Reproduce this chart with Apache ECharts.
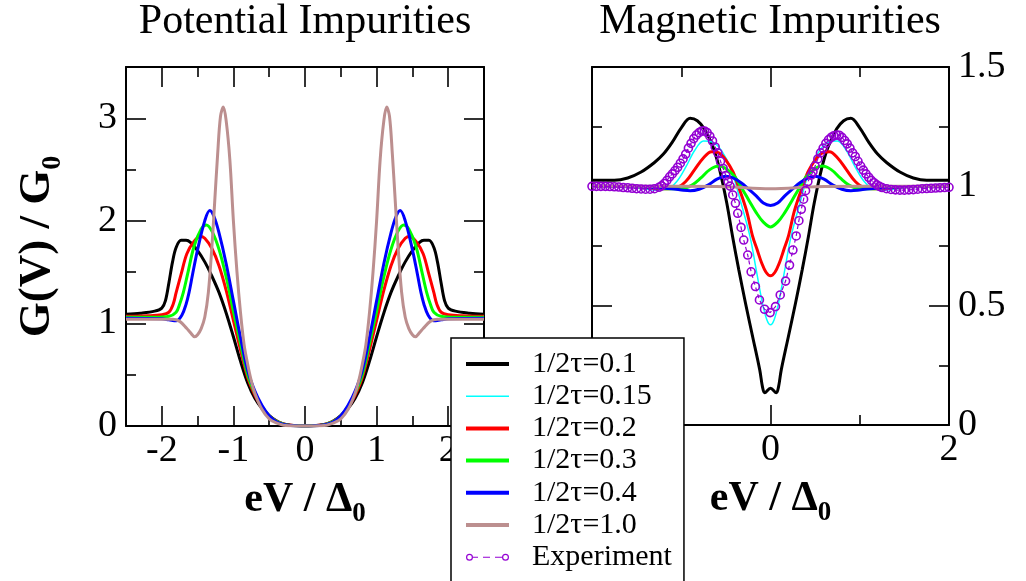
<!DOCTYPE html>
<html>
<head>
<meta charset="utf-8">
<script src="https://cdn.jsdelivr.net/npm/echarts@6/dist/echarts.min.js"></script>
<style>
html,body{margin:0;padding:0;background:#fff;}
#chart{width:1026px;height:581px;}
</style>
</head>
<body>
<div id="chart"></div>
<script>
// ---------- DATA ----------
const seriesNames = ['1/2τ=0.1', '1/2τ=0.15', '1/2τ=0.2', '1/2τ=0.3', '1/2τ=0.4', '1/2τ=1.0', 'Experiment'];
const panelTitles = ['Potential Impurities', 'Magnetic Impurities'];

const leftXTickLabels = [-2, -1, 0, 1, 2];
const leftYTickLabels = [0, 1, 2, 3];
const rightXTickLabels = [-2, 0, 2];
const rightYTickLabels = [0, 0.5, 1, 1.5];

// Potential impurities (left panel)
const leftBlack = [[-2.5,1.09],[-2.3,1.1],[-2.1,1.12],[-2.0,1.15],[-1.95,1.22],[-1.9,1.4],[-1.85,1.6],[-1.8,1.74],[-1.73,1.81],[-1.66,1.81],[-1.6,1.79],[-1.5,1.71],[-1.4,1.6],[-1.3,1.46],[-1.2,1.3],[-1.1,1.1],[-1.0,0.87],[-0.9,0.63],[-0.8,0.42],[-0.7,0.27],[-0.6,0.17],[-0.5,0.1],[-0.4,0.05],[-0.3,0.02],[-0.2,0.008],[-0.1,0.002],[0,0],
  [0.1,0.002],[0.2,0.008],[0.3,0.02],[0.4,0.05],[0.5,0.1],[0.6,0.17],[0.7,0.27],[0.8,0.42],[0.9,0.63],[1.0,0.87],[1.1,1.1],[1.2,1.3],[1.3,1.46],[1.4,1.6],[1.5,1.71],[1.6,1.79],[1.66,1.81],[1.73,1.81],[1.8,1.74],[1.85,1.6],[1.9,1.4],[1.95,1.22],[2.0,1.15],[2.1,1.12],[2.3,1.1],[2.5,1.09]];
const leftRed = [[-2.5,1.07],[-2.2,1.075],[-2.0,1.085],[-1.9,1.11],[-1.84,1.19],[-1.8,1.3],[-1.73,1.48],[-1.65,1.68],[-1.55,1.8],[-1.46,1.85],[-1.4,1.83],[-1.3,1.73],[-1.2,1.56],[-1.1,1.32],[-1.0,1.03],[-0.9,0.74],[-0.8,0.47],[-0.7,0.3],[-0.6,0.18],[-0.5,0.1],[-0.4,0.048],[-0.3,0.02],[-0.2,0.007],[-0.1,0.002],[0,0],
  [0.1,0.002],[0.2,0.007],[0.3,0.02],[0.4,0.048],[0.5,0.1],[0.6,0.18],[0.7,0.3],[0.8,0.47],[0.9,0.74],[1.0,1.03],[1.1,1.32],[1.2,1.56],[1.3,1.73],[1.4,1.83],[1.46,1.85],[1.55,1.8],[1.65,1.68],[1.73,1.48],[1.8,1.3],[1.84,1.19],[1.9,1.11],[2.0,1.085],[2.2,1.075],[2.5,1.07]];
const leftGreen = [[-2.5,1.06],[-2.1,1.06],[-1.9,1.07],[-1.8,1.11],[-1.75,1.19],[-1.7,1.3],[-1.64,1.48],[-1.55,1.75],[-1.45,1.92],[-1.38,1.96],[-1.3,1.9],[-1.2,1.72],[-1.1,1.45],[-1.0,1.12],[-0.9,0.8],[-0.8,0.5],[-0.7,0.32],[-0.6,0.19],[-0.5,0.1],[-0.4,0.045],[-0.3,0.018],[-0.2,0.006],[-0.1,0.002],[0,0],
  [0.1,0.002],[0.2,0.006],[0.3,0.018],[0.4,0.045],[0.5,0.1],[0.6,0.19],[0.7,0.32],[0.8,0.5],[0.9,0.8],[1.0,1.12],[1.1,1.45],[1.2,1.72],[1.3,1.9],[1.38,1.96],[1.45,1.92],[1.55,1.75],[1.64,1.48],[1.7,1.3],[1.75,1.19],[1.8,1.11],[1.9,1.07],[2.1,1.06],[2.5,1.06]];
const leftBlue = [[-2.5,1.05],[-2.0,1.045],[-1.9,1.035],[-1.8,1.025],[-1.72,1.08],[-1.66,1.19],[-1.62,1.3],[-1.57,1.48],[-1.5,1.72],[-1.4,2.0],[-1.33,2.1],[-1.27,2.04],[-1.2,1.88],[-1.1,1.58],[-1.0,1.22],[-0.9,0.86],[-0.8,0.54],[-0.7,0.34],[-0.6,0.2],[-0.5,0.1],[-0.4,0.042],[-0.3,0.016],[-0.2,0.005],[-0.1,0.001],[0,0],
  [0.1,0.001],[0.2,0.005],[0.3,0.016],[0.4,0.042],[0.5,0.1],[0.6,0.2],[0.7,0.34],[0.8,0.54],[0.9,0.86],[1.0,1.22],[1.1,1.58],[1.2,1.88],[1.27,2.04],[1.33,2.1],[1.4,2.0],[1.5,1.72],[1.57,1.48],[1.62,1.3],[1.66,1.19],[1.72,1.08],[1.8,1.025],[1.9,1.035],[2.0,1.045],[2.5,1.05]];
const leftBrown = [[-2.5,1.04],[-2.0,1.04],[-1.85,1.04],[-1.75,1.02],[-1.65,0.95],[-1.6,0.91],[-1.54,0.87],[-1.5,0.89],[-1.45,0.95],[-1.4,1.06],[-1.35,1.3],[-1.3,1.75],[-1.26,2.2],[-1.22,2.65],[-1.18,3.02],[-1.14,3.11],[-1.1,2.97],[-1.05,2.6],[-1.0,2.0],[-0.95,1.5],[-0.9,1.1],[-0.85,0.79],[-0.8,0.6],[-0.75,0.44],[-0.7,0.32],[-0.6,0.16],[-0.5,0.07],[-0.4,0.03],[-0.3,0.008],[-0.2,0.002],[-0.1,0],[0,0],
  [0.1,0],[0.2,0.002],[0.3,0.008],[0.4,0.03],[0.5,0.07],[0.6,0.16],[0.7,0.32],[0.75,0.44],[0.8,0.6],[0.85,0.79],[0.9,1.1],[0.95,1.5],[1.0,2.0],[1.05,2.6],[1.1,2.97],[1.14,3.11],[1.18,3.02],[1.22,2.65],[1.26,2.2],[1.3,1.75],[1.35,1.3],[1.4,1.06],[1.45,0.95],[1.5,0.89],[1.54,0.87],[1.6,0.91],[1.65,0.95],[1.75,1.02],[1.85,1.04],[2.0,1.04],[2.5,1.04]];

// Magnetic impurities (right panel)
const rightBlack = [[-2.0,1.025],[-1.75,1.025],[-1.6,1.035],[-1.45,1.06],[-1.3,1.1],[-1.2,1.135],[-1.1,1.185],[-1.0,1.245],[-0.9,1.285],[-0.82,1.275],[-0.74,1.24],[-0.64,1.16],[-0.57,1.07],[-0.49,0.93],[-0.425,0.79],[-0.355,0.65],[-0.28,0.51],[-0.2,0.37],[-0.12,0.23],[-0.09,0.16],[-0.065,0.135],[0,0.154],
  [0.065,0.135],[0.09,0.16],[0.12,0.23],[0.2,0.37],[0.28,0.51],[0.355,0.65],[0.425,0.79],[0.49,0.93],[0.57,1.07],[0.64,1.16],[0.74,1.24],[0.82,1.275],[0.9,1.285],[1.0,1.245],[1.1,1.185],[1.2,1.135],[1.3,1.1],[1.45,1.06],[1.6,1.035],[1.75,1.025],[2.0,1.025]];
const rightCyan = [[-2.0,1.0],[-1.5,0.995],[-1.3,0.985],[-1.15,0.99],[-1.05,1.02],[-0.95,1.08],[-0.85,1.15],[-0.75,1.19],[-0.65,1.185],[-0.55,1.15],[-0.44,1.07],[-0.33,0.93],[-0.23,0.79],[-0.16,0.65],[-0.09,0.51],[-0.04,0.44],[0,0.42],
  [0.04,0.44],[0.09,0.51],[0.16,0.65],[0.23,0.79],[0.33,0.93],[0.44,1.07],[0.55,1.15],[0.65,1.185],[0.75,1.19],[0.85,1.15],[0.95,1.08],[1.05,1.02],[1.15,0.99],[1.3,0.985],[1.5,0.995],[2.0,1.0]];
const rightRed = [[-2.0,1.0],[-1.5,0.998],[-1.2,0.99],[-1.05,0.995],[-0.95,1.02],[-0.85,1.07],[-0.75,1.12],[-0.66,1.145],[-0.58,1.14],[-0.5,1.11],[-0.42,1.06],[-0.36,1.0],[-0.27,0.9],[-0.2,0.79],[-0.15,0.735],[-0.1,0.68],[-0.05,0.64],[0,0.625],
  [0.05,0.64],[0.1,0.68],[0.15,0.735],[0.2,0.79],[0.27,0.9],[0.36,1.0],[0.42,1.06],[0.5,1.11],[0.58,1.14],[0.66,1.145],[0.75,1.12],[0.85,1.07],[0.95,1.02],[1.05,0.995],[1.2,0.99],[1.5,0.998],[2.0,1.0]];
const rightGreen = [[-2.0,1.0],[-1.4,0.998],[-1.15,0.99],[-1.0,0.99],[-0.88,1.005],[-0.78,1.035],[-0.68,1.07],[-0.58,1.085],[-0.5,1.075],[-0.4,1.04],[-0.31,0.985],[-0.24,0.94],[-0.16,0.89],[-0.08,0.85],[0,0.83],
  [0.08,0.85],[0.16,0.89],[0.24,0.94],[0.31,0.985],[0.4,1.04],[0.5,1.075],[0.58,1.085],[0.68,1.07],[0.78,1.035],[0.88,1.005],[1.0,0.99],[1.15,0.99],[1.4,0.998],[2.0,1.0]];
const rightBlue = [[-2.0,1.0],[-1.5,0.998],[-1.2,0.993],[-1.0,0.985],[-0.9,0.982],[-0.8,0.988],[-0.7,1.005],[-0.6,1.03],[-0.5,1.042],[-0.42,1.035],[-0.33,1.015],[-0.25,0.99],[-0.16,0.96],[-0.08,0.93],[0,0.92],
  [0.08,0.93],[0.16,0.96],[0.25,0.99],[0.33,1.015],[0.42,1.035],[0.5,1.042],[0.6,1.03],[0.7,1.005],[0.8,0.988],[0.9,0.982],[1.0,0.985],[1.2,0.993],[1.5,0.998],[2.0,1.0]];
const rightBrown = [[-2.0,1.0],[-1.0,1.0],[-0.5,0.998],[0,0.99],[0.5,0.998],[1.0,1.0],[2.0,1.0]];
const experiment = [[-2.0,1.0],[-1.95,1.0],[-1.9,1.0],[-1.85,1.0],[-1.8,0.999],[-1.75,0.998],[-1.7,0.997],[-1.65,0.995],[-1.6,0.994],[-1.55,0.992],[-1.5,0.99],[-1.45,0.989],[-1.4,0.988],[-1.35,0.988],[-1.3,0.99],[-1.25,0.996],
  [-1.22,1.002],[-1.19,1.012],[-1.16,1.025],[-1.13,1.04],[-1.1,1.052],[-1.07,1.066],[-1.04,1.08],[-1.01,1.097],[-0.98,1.115],[-0.95,1.135],[-0.92,1.16],[-0.89,1.18],[-0.86,1.2],[-0.83,1.215],[-0.8,1.225],[-0.77,1.232],[-0.74,1.232],[-0.71,1.225],[-0.68,1.21],[-0.65,1.19],[-0.62,1.165],[-0.59,1.14],[-0.56,1.105],[-0.53,1.075],[-0.5,1.045],[-0.475,1.02],
  [-0.453,1.001],[-0.423,0.964],[-0.393,0.929],[-0.367,0.887],[-0.33,0.828],[-0.3,0.775],[-0.255,0.712],[-0.217,0.642],[-0.169,0.58],[-0.124,0.524],[-0.067,0.485],[-0.004,0.471],[0.056,0.496],[0.109,0.545],[0.169,0.603],[0.213,0.67],[0.251,0.733],[0.288,0.792],[0.318,0.856],[0.345,0.904],[0.371,0.946],[0.393,0.982],[0.419,1.02],[0.457,1.047],[0.476,1.061],
  [0.5,1.085],[0.53,1.115],[0.56,1.14],[0.59,1.16],[0.62,1.18],[0.65,1.195],[0.68,1.205],[0.71,1.212],[0.74,1.215],[0.77,1.214],[0.8,1.205],[0.83,1.192],[0.86,1.178],[0.89,1.16],[0.92,1.14],[0.95,1.125],[0.98,1.105],[1.01,1.085],[1.04,1.068],[1.07,1.052],[1.1,1.038],[1.13,1.025],[1.16,1.015],[1.19,1.006],[1.22,1.0],[1.25,0.995],
  [1.3,0.99],[1.35,0.987],[1.4,0.985],[1.45,0.984],[1.5,0.984],[1.55,0.985],[1.6,0.986],[1.65,0.988],[1.7,0.99],[1.75,0.991],[1.8,0.992],[1.85,0.993],[1.9,0.994],[1.95,0.995],[2.0,0.996]];

// ---------- STYLE ----------
const FONT = 'Liberation Serif';
const colors = ['#000000', '#00ffff', '#ff0000', '#00ff00', '#0000ff', '#bc8f8f', '#9400d3'];
const TICK_MAJOR = 20, TICK_MINOR = 10, AXIS_W = 2;

function nameStyle(fs, sfs, pad) {
  return {
    rich: {
      b: {fontFamily: FONT, fontSize: fs, fontWeight: 'bold', color: '#000', lineHeight: fs, verticalAlign: 'top'},
      s: {fontFamily: FONT, fontSize: sfs, fontWeight: 'bold', color: '#000', lineHeight: sfs, verticalAlign: 'top', padding: [pad, 0, 0, 0]}
    }
  };
}

function axisSet(kind, gridIndex, min, max, majors, minors, labelPos, labelVals, name, nameGap, nameTs) {
  const isX = kind === 'x';
  const mirrorPos = isX ? (labelPos === 'bottom' ? 'top' : 'bottom') : (labelPos === 'left' ? 'right' : 'left');
  const base = {type: 'value', gridIndex, min, max, splitLine: {show: false}, scale: false};
  const mk = (pos, ticks, len, showLine, labels) => Object.assign({}, base, {
    position: pos,
    axisLine: {show: showLine, onZero: false, lineStyle: {color: '#000', width: AXIS_W}},
    axisTick: {show: true, inside: true, length: len, customValues: ticks, lineStyle: {color: '#000', width: 1.6}},
    axisLabel: labels ? {show: true, customValues: labels, margin: isX ? 6 : 9, fontFamily: FONT, fontSize: 38, color: '#000'} : {show: false},
    minorTick: {show: false}
  });
  const main = mk(labelPos, majors, TICK_MAJOR, true, labelVals);
  if (name) {
    main.name = name;
    main.nameLocation = 'middle';
    main.nameGap = nameGap;
    main.nameTextStyle = nameTs;
  }
  return [
    main,
    mk(labelPos, minors, TICK_MINOR, false, null),
    mk(mirrorPos, majors, TICK_MAJOR, true, null),
    mk(mirrorPos, minors, TICK_MINOR, false, null)
  ];
}

const xName = '{b|eV / Δ}{s|0}';
const yName = '{b|G(V) / G}{s|0}';
const xAxes = [].concat(
  axisSet('x', 0, -2.5, 2.5, [-2, -1, 0, 1, 2], [-1.5, -0.5, 0.5, 1.5], 'bottom', leftXTickLabels, xName, 53, nameStyle(42, 27, 22)),
  axisSet('x', 1, -2, 2, [-2, 0, 2], [-1, 1], 'bottom', rightXTickLabels, xName, 53, nameStyle(42, 27, 22))
);
const yAxes = [].concat(
  axisSet('y', 0, 0, 3.5, [0, 1, 2, 3], [0.5, 1.5, 2.5], 'left', leftYTickLabels, yName, 66, nameStyle(45, 28, 24)),
  axisSet('y', 1, 0, 1.5, [0, 0.5, 1, 1.5], [0.25, 0.75, 1.25], 'right', rightYTickLabels, null, 0, null)
);

function lineSeries(name, data, panel, color, width) {
  return {
    name, type: 'line', data, xAxisIndex: panel * 4, yAxisIndex: panel * 4,
    showSymbol: false, symbol: 'none', smooth: 0.35,
    lineStyle: {color, width}, itemStyle: {color}, emphasis: {disabled: true}
  };
}

const series = [
  lineSeries(seriesNames[0], leftBlack, 0, colors[0], 3),
  lineSeries(seriesNames[2], leftRed, 0, colors[2], 3),
  lineSeries(seriesNames[3], leftGreen, 0, colors[3], 3),
  lineSeries(seriesNames[4], leftBlue, 0, colors[4], 3),
  lineSeries(seriesNames[5], leftBrown, 0, colors[5], 3),
  lineSeries(seriesNames[0], rightBlack, 1, colors[0], 3),
  lineSeries(seriesNames[1], rightCyan, 1, colors[1], 1.5),
  lineSeries(seriesNames[2], rightRed, 1, colors[2], 3),
  lineSeries(seriesNames[3], rightGreen, 1, colors[3], 3),
  lineSeries(seriesNames[4], rightBlue, 1, colors[4], 3),
  lineSeries(seriesNames[5], rightBrown, 1, colors[5], 3),
  {
    name: seriesNames[6], type: 'line', data: experiment, xAxisIndex: 4, yAxisIndex: 4,
    symbol: 'circle', symbolSize: 8, showSymbol: true, showAllSymbol: true, smooth: false,
    lineStyle: {color: colors[6], width: 1.2, type: [4, 3]},
    itemStyle: {color: 'rgba(0,0,0,0)', borderColor: colors[6], borderWidth: 1.6},
    emphasis: {disabled: true}
  }
];

const thickIcon = 'path://M0,0L43,0L43,4L0,4Z';
const thinIcon = 'path://M0,0L43,0L43,1.6L0,1.6Z';
const expIcon = 'path://M0,3.5A3.5,3.5 0 1,1 7,3.5A3.5,3.5 0 1,1 0,3.5Z M1.2,3.5A2.3,2.3 0 1,0 5.8,3.5A2.3,2.3 0 1,0 1.2,3.5Z ' +
  'M36,3.5A3.5,3.5 0 1,1 43,3.5A3.5,3.5 0 1,1 36,3.5Z M37.2,3.5A2.3,2.3 0 1,0 41.8,3.5A2.3,2.3 0 1,0 37.2,3.5Z ' +
  'M7,3L12,3L12,4L7,4Z M17,3L24,3L24,4L17,4Z M29,3L36,3L36,4L29,4Z';
const legendIcons = [thickIcon, thinIcon, thickIcon, thickIcon, thickIcon, thickIcon, expIcon];

const option = {
  animation: false,
  backgroundColor: '#fff',
  title: [
    {text: panelTitles[0], left: 305, top: 1, textAlign: 'center', padding: 0,
     textStyle: {fontFamily: FONT, fontSize: 42, fontWeight: 'normal', color: '#000'}},
    {text: panelTitles[1], left: 770, top: 1, textAlign: 'center', padding: 0,
     textStyle: {fontFamily: FONT, fontSize: 42, fontWeight: 'normal', color: '#000'}}
  ],
  grid: [
    {left: 126, top: 67, width: 358, height: 359, containLabel: false},
    {left: 592, top: 67, width: 357, height: 358, containLabel: false}
  ],
  xAxis: xAxes,
  yAxis: yAxes,
  legend: {
    orient: 'vertical', left: 451, top: 338, height: 250,
    padding: [11, 12, 20, 15],
    backgroundColor: '#fff', borderColor: '#000', borderWidth: 1.5, borderRadius: 0,
    itemWidth: 43, itemHeight: 10, itemGap: 2.2,
    selectedMode: false,
    textStyle: {fontFamily: FONT, fontSize: 30, color: '#000', lineHeight: 30, padding: [0, 0, 0, 18]},
    data: seriesNames.map((n, i) => ({
      name: n, icon: legendIcons[i],
      itemStyle: {color: colors[i], borderWidth: 0, borderColor: 'rgba(0,0,0,0)'}
    }))
  },
  series
};

const chart = echarts.init(document.getElementById('chart'), null, {renderer: 'canvas'});
chart.setOption(option);
</script>
</body>
</html>
